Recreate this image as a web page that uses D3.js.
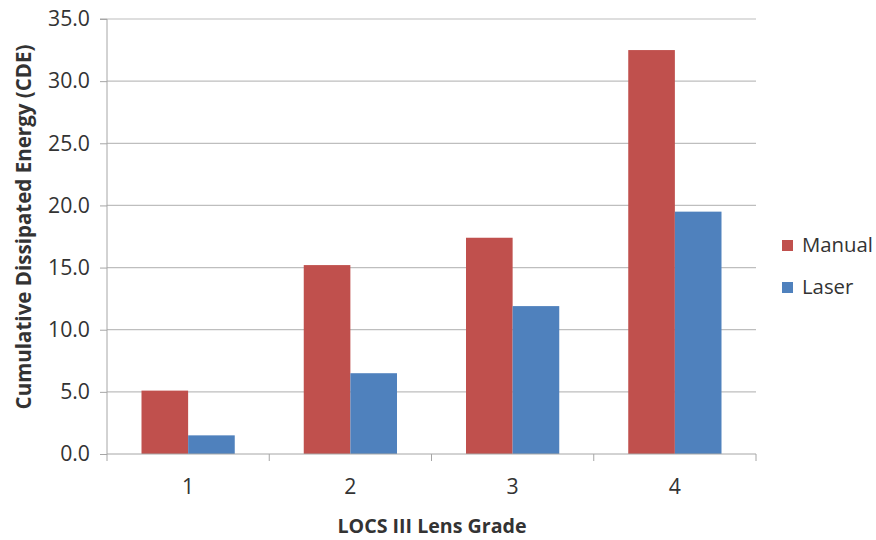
<!DOCTYPE html>
<html><head><meta charset="utf-8">
<script src="https://cdn.jsdelivr.net/npm/d3@7"></script>
<style>body{margin:0;background:#fff;} svg{display:block;}</style>
</head><body>
<svg id="chart" width="876" height="540"></svg>
<script>
const categories = ["1", "2", "3", "4"];
const seriesNames = ["Manual", "Laser"];
const manualValues = [5.1, 15.2, 17.4, 32.5];
const laserValues = [1.5, 6.5, 11.9, 19.5];
const yTicks = [0, 5, 10, 15, 20, 25, 30, 35];
const colors = ["#C0504D", "#4F81BD"];

(function () {
const svg = d3.select("#chart");
const pLeft = 107, pRight = 756, pTop = 19, pBottom = 454;
const font = "'Open Sans', 'Liberation Sans', sans-serif";

// scale a text element's font so its width matches a target
function fitFont(sel, target) {
  const node = sel.node();
  const fs = parseFloat(sel.attr("font-size"));
  const w = node.getComputedTextLength();
  if (w > 0) sel.attr("font-size", (fs * target / w).toFixed(2));
  return sel;
}

const x = d3.scaleBand().domain(categories).range([pLeft, pRight]).paddingInner(0).paddingOuter(0);
const xs = d3.scaleBand().domain(seriesNames).range([0, x.bandwidth()]).paddingInner(0).paddingOuter(0.74);
const y = d3.scaleLinear().domain([0, 35]).range([pBottom, pTop]);

// gridlines
svg.append("g").selectAll("line").data(yTicks.filter(d => d > 0)).join("line")
  .attr("x1", pLeft).attr("x2", pRight)
  .attr("y1", d => y(d)).attr("y2", d => y(d))
  .attr("stroke", "#BEBEBE").attr("stroke-width", 1.2);

// y axis
const yAxis = d3.axisLeft(y).tickValues(yTicks).tickFormat(d3.format(".1f")).tickSize(7).tickPadding(10);
const gy = svg.append("g").attr("transform", `translate(${pLeft},0)`).call(yAxis);
gy.select(".domain").attr("stroke", "#A6A6A6").attr("d", `M-7,${pTop}H0V${pBottom+7}`);
gy.selectAll(".tick line").attr("stroke", "#A6A6A6");
gy.selectAll("text").attr("font-family", font).attr("font-size", 20).attr("fill", "#333");
{
  const t = gy.select(".tick:last-of-type text");
  fitFont(t, 42);
  gy.selectAll("text").attr("font-size", t.attr("font-size"));
}

// bars
const data = categories.map((c, i) => ({cat: c, values: [manualValues[i], laserValues[i]]}));
const groups = svg.append("g").selectAll("g").data(data).join("g")
  .attr("transform", d => `translate(${x(d.cat)},0)`);
groups.selectAll("rect").data(d => d.values.map((v, j) => ({name: seriesNames[j], v, j}))).join("rect")
  .attr("x", d => xs(d.name)).attr("width", xs.bandwidth())
  .attr("y", d => y(d.v)).attr("height", d => y(0) - y(d.v))
  .attr("fill", d => colors[d.j]);

// x axis
const xAxis = d3.axisBottom(x).tickSize(0).tickPadding(25);
const gx = svg.append("g").attr("transform", `translate(0,${pBottom})`).call(xAxis);
gx.select(".domain").attr("stroke", "#A6A6A6").attr("d", `M${pLeft},0H${pRight}`);
gx.selectAll("text").attr("font-family", font).attr("font-size", gy.select("text").attr("font-size")).attr("fill", "#333");
// category boundary ticks
const bounds = categories.map(c => x(c) + x.bandwidth());
svg.append("g").selectAll("line").data(bounds).join("line")
  .attr("x1", d => d).attr("x2", d => d).attr("y1", pBottom).attr("y2", pBottom + 7)
  .attr("stroke", "#A6A6A6");

// axis titles
const xt = svg.append("text").attr("x", 432).attr("y", 533)
  .attr("text-anchor", "middle").attr("font-family", font).attr("font-weight", "bold")
  .attr("font-size", 18).attr("fill", "#333").text("LOCS III Lens Grade");
fitFont(xt, 189);
const yt = svg.append("text").attr("transform", `translate(31,227) rotate(-90)`)
  .attr("text-anchor", "middle").attr("font-family", font).attr("font-weight", "bold")
  .attr("font-size", 18).attr("fill", "#333").text("Cumulative Dissipated Energy (CDE)");
fitFont(yt, 365);

// legend
const legend = svg.append("g").selectAll("g").data(seriesNames).join("g")
  .attr("transform", (d, i) => `translate(782,${245 + i * 42})`);
legend.append("rect").attr("x", 0).attr("y", -5).attr("width", 11).attr("height", 11)
  .attr("fill", (d, i) => colors[i]);
const lt = legend.append("text").attr("x", 20).attr("y", 0).attr("dy", "0.35em")
  .attr("font-family", font).attr("font-size", 20).attr("fill", "#333").text(d => d);
fitFont(d3.select(lt.nodes()[0]), 71);
lt.attr("font-size", d3.select(lt.nodes()[0]).attr("font-size"));
})();
</script>
</body></html>
